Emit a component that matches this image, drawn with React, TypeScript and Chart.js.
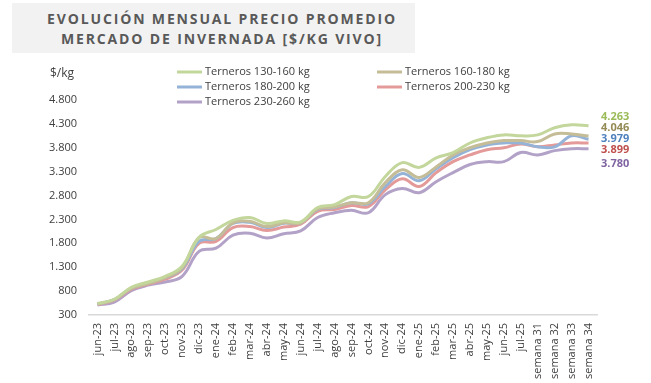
import React, { useEffect, useRef } from "react";
import { Chart, registerables } from "chart.js";

Chart.register(...registerables);

const categories = [
  "jun-23", "jul-23", "ago-23", "sep-23", "oct-23", "nov-23", "dic-23",
  "ene-24", "feb-24", "mar-24", "abr-24", "may-24", "jun-24", "jul-24",
  "ago-24", "sep-24", "oct-24", "nov-24", "dic-24", "ene-25", "feb-25",
  "mar-25", "abr-25", "may-25", "jun-25", "jul-25", "semana 31",
  "semana 32", "semana 33", "semana 34",
];

const terneros130_160 = [540, 630, 880, 990, 1110, 1320, 1925, 2090, 2280, 2340, 2215, 2270, 2250, 2550, 2610, 2780, 2780, 3200, 3490, 3390, 3590, 3700, 3900, 4010, 4070, 4050, 4070, 4220, 4280, 4263];
const terneros160_180 = [530, 620, 860, 960, 1080, 1290, 1920, 1900, 2230, 2260, 2150, 2230, 2230, 2520, 2560, 2650, 2650, 3070, 3340, 3180, 3400, 3650, 3800, 3900, 3950, 3950, 3930, 4090, 4090, 4046];
const terneros180_200 = [530, 620, 860, 970, 1080, 1270, 1840, 1900, 2215, 2240, 2130, 2220, 2230, 2510, 2550, 2650, 2630, 2990, 3260, 3110, 3360, 3590, 3760, 3860, 3900, 3900, 3820, 3820, 4050, 3979];
const terneros200_230 = [520, 610, 840, 950, 1050, 1240, 1800, 1840, 2130, 2150, 2070, 2140, 2200, 2470, 2510, 2590, 2570, 2920, 3150, 2990, 3280, 3510, 3650, 3760, 3800, 3880, 3820, 3860, 3900, 3899];
const terneros230_260 = [510, 570, 810, 925, 990, 1110, 1630, 1700, 1970, 2010, 1910, 2000, 2060, 2340, 2440, 2490, 2440, 2820, 2950, 2860, 3090, 3280, 3450, 3510, 3510, 3700, 3650, 3740, 3780, 3780];

const seriesLabels = [
  "Terneros 130-160 kg",
  "Terneros 160-180 kg",
  "Terneros 180-200 kg",
  "Terneros 200-230 kg",
  "Terneros 230-260 kg",
];
const lineColors = ["#c3d69b", "#c4bd97", "#95b3d7", "#e39a98", "#b3a2c7"];
const labelColors = ["#9bbb59", "#948a54", "#4f81bd", "#c0504d", "#8064a2"];
const labelOffsets = [-9, -8, 0, 7, 15];

const yMin = 300;
const yMax = 4800;
const yStep = 500;

const fmt = (v: number) =>
  String(Math.round(v)).replace(/\B(?=(\d{3})+(?!\d))/g, ".");

const FONT = "'Open Sans', sans-serif";

const endLabelsPlugin = {
  id: "endLabels",
  afterDatasetsDraw(chart: any) {
    const ctx = chart.ctx;
    ctx.save();
    ctx.font = `bold 11px ${FONT}`;
    ctx.textAlign = "left";
    ctx.textBaseline = "middle";
    chart.data.datasets.forEach((ds: any, i: number) => {
      const meta = chart.getDatasetMeta(i);
      const pt = meta.data[meta.data.length - 1];
      const v = ds.data[ds.data.length - 1];
      ctx.fillStyle = labelColors[i];
      ctx.fillText(fmt(v), chart.chartArea.right + 4, pt.y + labelOffsets[i]);
    });
    ctx.restore();
  },
};

const legendPlugin = {
  id: "customLegend",
  afterDraw(chart: any) {
    const ctx = chart.ctx;
    ctx.save();
    ctx.font = `11px ${FONT}`;
    ctx.textBaseline = "middle";
    ctx.textAlign = "left";
    const cols = [177, 377];
    const rows = [72, 87, 102];
    chart.data.datasets.forEach((ds: any, i: number) => {
      const x = cols[i % 2];
      const y = rows[Math.floor(i / 2)];
      ctx.strokeStyle = ds.borderColor;
      ctx.lineWidth = 3;
      ctx.beginPath();
      ctx.moveTo(x, y);
      ctx.lineTo(x + 25, y);
      ctx.stroke();
      ctx.fillStyle = "#404040";
      ctx.fillText(ds.label, x + 28, y);
    });
    ctx.font = `12px ${FONT}`;
    ctx.fillText("$/kg", 50, 74);
    ctx.restore();
  },
};

export default function App() {
  const canvasRef = useRef<HTMLCanvasElement | null>(null);

  useEffect(() => {
    if (!canvasRef.current) return;
    const series = [terneros130_160, terneros160_180, terneros180_200, terneros200_230, terneros230_260];
    const chart = new Chart(canvasRef.current, {
      type: "line",
      data: {
        labels: categories,
        datasets: series.map((d, i) => ({
          label: seriesLabels[i],
          data: d,
          borderColor: lineColors[i],
          backgroundColor: lineColors[i],
          borderWidth: 3,
          pointRadius: 0,
          tension: 0.4,
          fill: false,
        })),
      },
      options: {
        animation: false,
        responsive: false,
        devicePixelRatio: 1,
        layout: { padding: { left: 0, right: 54, top: 100, bottom: 0 } },
        plugins: {
          legend: { display: false },
          title: { display: false },
          tooltip: { enabled: false },
        },
        scales: {
          x: {
            offset: true,
            grid: { display: false, drawTicks: false },
            border: { display: true, color: "#d9d9d9", width: 1.5 },
            ticks: {
              autoSkip: false,
              maxRotation: 90,
              minRotation: 90,
              padding: 8,
              color: "#404040",
              font: { family: FONT, size: 11 },
            },
            afterFit: (s: any) => {
              s.height = 68;
            },
          },
          y: {
            min: yMin,
            max: yMax,
            grid: { display: false, drawTicks: false },
            border: { display: false },
            ticks: {
              stepSize: yStep,
              padding: 12,
              color: "#404040",
              font: { family: FONT, size: 11 },
              callback: (v: any) => fmt(Number(v)),
            },
            afterFit: (s: any) => {
              s.width = 89;
            },
          },
        },
      },
      plugins: [endLabelsPlugin, legendPlugin],
    });
    return () => chart.destroy();
  }, []);

  return (
    <div style={{ position: "fixed", left: 0, top: 0, width: 651, height: 383, background: "#fff", overflow: "hidden" }}>
      <div style={{ position: "absolute", left: 12, top: 3, width: 403, height: 50, background: "#f2f2f2" }} />
      <div
        style={{
          position: "absolute",
          left: 22,
          top: 9,
          width: 400,
          textAlign: "center",
          fontFamily: FONT,
          fontWeight: 700,
          fontSize: 14,
          lineHeight: "19.5px",
          letterSpacing: "1.85px",
          color: "#595959",
        }}
      >
        EVOLUCIÓN MENSUAL PRECIO PROMEDIO
        <br />
        MERCADO DE INVERNADA [$/KG VIVO]
      </div>
      <canvas ref={canvasRef} width={651} height={383} style={{ position: "absolute", left: 0, top: 0 }} />
    </div>
  );
}
